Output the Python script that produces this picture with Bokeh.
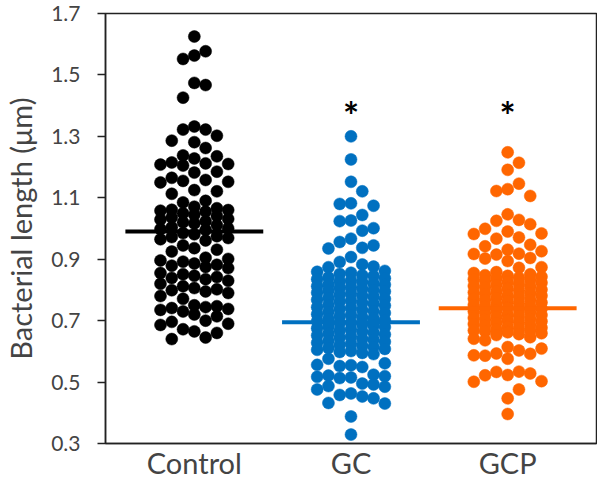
import numpy as np
from bokeh.plotting import figure
from bokeh.models import FixedTicker, NumeralTickFormatter, Range1d, ColumnDataSource
from bokeh.core.properties import value
from bokeh.embed import file_html
from bokeh.resources import INLINE

# ---------------- data ----------------
categories = ["Control", "GC", "GCP"]
colors = ["#000000", "#0070C0", "#FF6600"]
means = [0.99, 0.695, 0.74]

control = [1.625, 1.577, 1.563, 1.552, 1.474, 1.467, 1.426,
           1.332, 1.322, 1.322, 1.302, 1.286, 1.281, 1.262,
           1.238, 1.235, 1.228, 1.215, 1.21, 1.208, 1.212, 1.205,
           1.185, 1.182, 1.165, 1.158, 1.155, 1.152, 1.15,
           1.125, 1.121, 1.113,
           1.09, 1.085, 1.071, 1.066, 1.061, 1.06, 1.058, 1.055, 1.05,
           1.045, 1.041, 1.036, 1.031, 1.029, 1.024, 1.02, 1.016, 1.011, 1.004, 1.0, 0.998, 0.995,
           0.985, 0.981, 0.975, 0.972, 0.969, 0.965, 0.961,
           0.945, 0.936, 0.931, 0.925,
           0.905, 0.901, 0.896, 0.892, 0.886, 0.882, 0.879, 0.875, 0.871,
           0.855, 0.851, 0.846, 0.842, 0.839, 0.835, 0.83,
           0.82, 0.812, 0.806, 0.802, 0.799, 0.795, 0.79,
           0.78, 0.771,
           0.75, 0.747, 0.744, 0.741, 0.738, 0.735, 0.73,
           0.72, 0.714, 0.70, 0.696, 0.69, 0.686,
           0.672, 0.665, 0.66,
           0.645, 0.64]

gc = [1.30, 1.225, 1.152, 1.121, 1.08, 1.074, 1.082, 1.044, 1.026, 1.024,
      1.001, 0.993, 0.967, 0.956, 0.945, 0.937, 0.935, 0.907, 0.891, 0.883,
      0.876, 0.874,
      0.862, 0.859, 0.856, 0.852, 0.848, 0.845, 0.841,
      0.838, 0.835, 0.831, 0.828, 0.826, 0.822, 0.818,
      0.817, 0.812, 0.809, 0.806, 0.804, 0.800, 0.797,
      0.795, 0.791, 0.788, 0.784, 0.781, 0.778, 0.774,
      0.771, 0.768, 0.765, 0.762, 0.758, 0.755, 0.751,
      0.749, 0.744, 0.741, 0.738, 0.735, 0.731, 0.728,
      0.725, 0.721, 0.718, 0.714, 0.711, 0.708, 0.705,
      0.701, 0.698, 0.694, 0.692, 0.688, 0.684, 0.681,
      0.679, 0.675, 0.672, 0.669, 0.665, 0.661, 0.658,
      0.655, 0.652, 0.648, 0.645, 0.641, 0.638, 0.634,
      0.631, 0.628, 0.625, 0.621, 0.618, 0.614, 0.611,
      0.608, 0.605, 0.601, 0.598, 0.595, 0.591,
      0.576, 0.561, 0.556, 0.552, 0.555, 0.549,
      0.524, 0.521, 0.515, 0.519, 0.513, 0.517,
      0.492, 0.485, 0.476, 0.487, 0.495, 0.463, 0.458, 0.453,
      0.447, 0.432, 0.430, 0.388, 0.329]

gcp = [1.248, 1.214, 1.191, 1.146, 1.122, 1.128, 1.106, 1.046,
       1.014, 1.028, 1.025, 0.999, 0.990, 0.982, 0.967, 0.984, 0.971,
       0.942, 0.931, 0.947, 0.926, 0.902, 0.917, 0.904, 0.918, 0.915,
       0.894, 0.874, 0.872, 0.840,
       0.858, 0.855, 0.851, 0.848, 0.846, 0.843, 0.838,
       0.835, 0.832, 0.829, 0.826, 0.823, 0.819, 0.816,
       0.813, 0.811, 0.808, 0.805, 0.801, 0.798, 0.795,
       0.792, 0.789, 0.786, 0.783, 0.781, 0.777, 0.774,
       0.771, 0.768, 0.766, 0.763, 0.759, 0.756, 0.753,
       0.751, 0.748, 0.745, 0.742, 0.739, 0.736, 0.733,
       0.730, 0.727, 0.724, 0.721, 0.718, 0.715, 0.712,
       0.709, 0.706, 0.703, 0.701, 0.698, 0.695, 0.692,
       0.689, 0.686, 0.683, 0.680, 0.677, 0.674, 0.671,
       0.668, 0.665, 0.662, 0.659, 0.656, 0.653,
       0.646, 0.641, 0.636, 0.668, 0.614,
       0.587, 0.593, 0.576, 0.603, 0.592, 0.586, 0.609,
       0.523, 0.533, 0.501, 0.522, 0.528, 0.503, 0.534,
       0.476, 0.447, 0.396]

groups = [control, gc, gcp]
y_ticks = [0.3, 0.5, 0.7, 0.9, 1.1, 1.3, 1.5, 1.7]
star_groups = [1, 2]
star_y = [1.37, 1.37]

# ---------------- swarm layout (discrete columns) ----------------
COL_W = 0.072      # horizontal spacing of dot columns (x units)
MAXC = 3           # columns each side of centre
THR = 0.05         # vertical clearance wanted inside one column


def swarm_offsets(vals):
    vals = np.asarray(vals, dtype=float)
    order = np.argsort(-vals, kind="stable")
    cand = [0]
    for k in range(1, MAXC + 1):
        cand += [k, -k]
    cols = {c: [] for c in cand}
    offs = np.zeros(len(vals))
    for i in order:
        v = vals[i]
        best, bestd = None, -1.0
        for c in cand:
            d = min((abs(v - u) for u in cols[c]), default=9.0)
            if d >= THR:
                best = c
                break
            if d > bestd + 1e-9:
                best, bestd = c, d
        cols[best].append(v)
        offs[i] = best * COL_W
    return offs


# ---------------- figure ----------------
p = figure(width=597, height=483, output_backend="svg", toolbar_location=None,
           x_range=Range1d(-0.567, 2.567), y_range=Range1d(0.3, 1.7),
           min_border_left=104, min_border_top=13, min_border_right=1, min_border_bottom=40)
p.xgrid.visible = False
p.ygrid.visible = False
p.outline_line_color = "#222222"
p.outline_line_width = 1.5
p.background_fill_color = "white"
p.border_fill_color = "white"

for gi, vals in enumerate(groups):
    offs = swarm_offsets(vals)
    src = ColumnDataSource(dict(x=gi + offs, y=vals))
    p.scatter("x", "y", source=src, size=12, fill_color=colors[gi],
              line_color=colors[gi], line_width=0.5)

idx = np.arange(len(categories))
p.segment(x0=idx - 0.44, x1=idx + 0.44, y0=means, y1=means,
          line_color=colors, line_width=4)

p.text(x=star_groups, y=star_y, text=["*"] * len(star_groups),
       text_font=value("Lato"), text_font_size="38px", text_font_style="bold",
       text_align="center", text_baseline="alphabetic", text_color="black")

# y axis
ya = p.yaxis[0]
ya.ticker = FixedTicker(ticks=y_ticks)
ya.formatter = NumeralTickFormatter(format="0.0")
ya.axis_label = "Bacterial length (μm)"
ya.axis_label_text_font = "Lato"
ya.axis_label_text_font_size = "29px"
ya.axis_label_text_font_style = "normal"
ya.axis_label_standoff = 10
ya.major_label_text_font = "Lato"
ya.major_label_text_font_size = "21px"
ya.major_label_standoff = 17
ya.major_tick_in = 0
ya.major_tick_out = 8
ya.minor_tick_line_color = None
ya.axis_line_color = "#222222"
ya.axis_line_width = 1.5
ya.major_tick_line_color = "#222222"
ya.major_tick_line_width = 1.5

# x axis
xa = p.xaxis[0]
xa.ticker = FixedTicker(ticks=list(idx))
xa.major_label_overrides = {int(i): c for i, c in enumerate(categories)}
xa.major_label_text_font = "Lato"
xa.major_label_text_font_size = "29px"
xa.major_label_standoff = 1
xa.major_tick_in = 0
xa.major_tick_out = 0
xa.major_tick_line_color = None
xa.minor_tick_line_color = None
xa.axis_line_color = "#222222"
xa.axis_line_width = 1.5

open("out.html", "w").write(file_html(p, INLINE))
